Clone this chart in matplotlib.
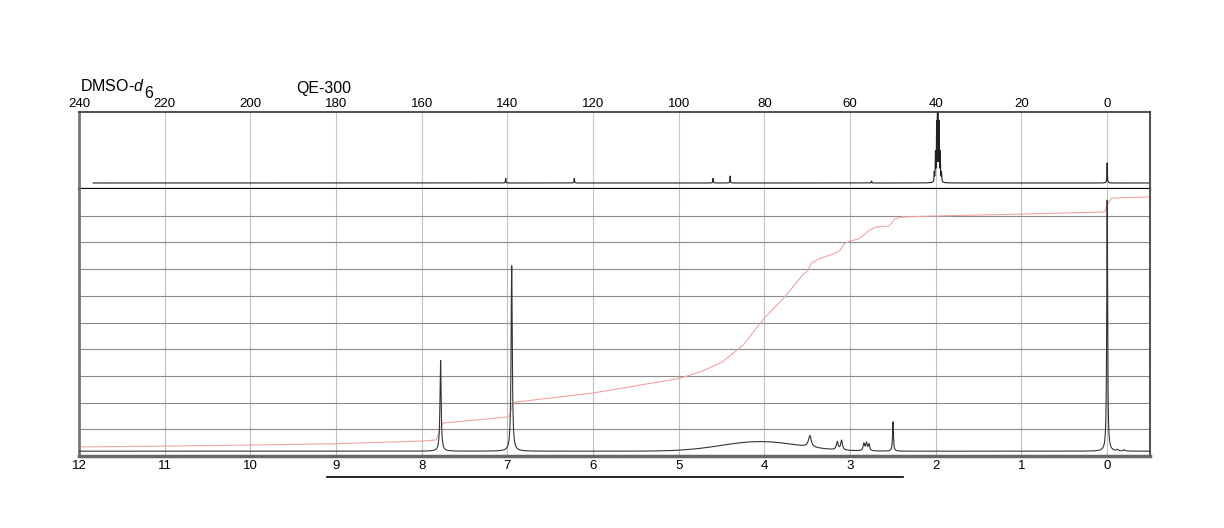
"""1H / 13C NMR spectrum sheet (DMSO-d6, QE-300) redrawn with matplotlib."""

import numpy as np
import matplotlib
matplotlib.use("Agg")
import matplotlib.pyplot as plt

plt.rcParams["font.family"] = ["Liberation Sans", "DejaVu Sans"]
plt.rcParams["mathtext.fontset"] = "custom"
plt.rcParams["mathtext.rm"] = "Liberation Sans"
plt.rcParams["mathtext.it"] = "Liberation Sans:italic"

# --- data ---
# 1H peaks: position (ppm), height above baseline (% of panel), half width (ppm)
h_pos = [7.78, 6.95, 3.47, 3.15, 3.10, 2.84, 2.81, 2.78, 2.50, 0.00, -0.12, -0.20]
h_height = [34.0, 69.5, 4.3, 3.0, 3.6, 2.6, 2.9, 2.4, 11.0, 94.0, 0.5, 0.5]
h_width = [0.008, 0.008, 0.02, 0.012, 0.012, 0.01, 0.01, 0.01, 0.006, 0.006, 0.01, 0.01]
h_baseline = 1.8
# broad exchangeable hump
hump_pos, hump_height, hump_sigma = 4.05, 3.6, 0.45

# integral trace: (ppm, % of panel)
int_ppm = [12.0, 11.0, 10.0, 9.0, 8.0, 7.83, 7.79, 7.76, 7.0, 6.97, 6.94, 6.9,
           6.0, 5.0, 4.75, 4.5, 4.25, 4.0, 3.75, 3.55, 3.5, 3.45, 3.35, 3.2,
           3.12, 3.07, 3.0, 2.9, 2.84, 2.8, 2.7, 2.55, 2.51, 2.48, 2.4, 2.0,
           1.0, 0.03, 0.0, -0.05, -0.5]
int_val = [3.4, 3.7, 4.1, 4.6, 5.6, 6.0, 9.5, 12.3, 14.6, 15.2, 19.6, 20.2,
           23.6, 29.0, 31.5, 35.0, 41.5, 51.7, 60.0, 68.0, 69.2, 72.3, 74.0, 75.6,
           77.0, 79.4, 80.5, 81.3, 82.8, 84.0, 85.8, 86.1, 87.5, 88.8, 89.5, 89.9,
           90.6, 91.4, 94.0, 96.6, 97.0]

# 13C peaks: position (ppm), height above baseline (% of panel)
c_pos = [40.36, 40.08, 39.80, 39.52, 39.24, 38.96, 38.68, 140.4, 124.4, 92.0, 88.0, 55.0, 0.0]
c_height = [12.0, 37.0, 75.0, 88.0, 75.0, 37.0, 12.0, 6.0, 6.0, 6.0, 9.0, 2.5, 26.0]
c_baseline = 7.8
c_start = 236.7

h_ticks = list(range(12, -1, -1))
c_ticks = list(range(240, -1, -20))


def lorentz(x, pos, height, width):
    y = np.zeros_like(x)
    for p, h, w in zip(pos, height, width):
        y += h * w ** 2 / ((x - p) ** 2 + w ** 2)
    return y


fig = plt.figure(figsize=(12.24, 5.28), dpi=100)
L, W = 79 / 1224, (1150 - 79) / 1224
ax_c = fig.add_axes([L, 1 - 189 / 528, W, (189 - 112) / 528])
ax_h = fig.add_axes([L, 1 - 456 / 528, W, (456 - 189) / 528])

# 13C panel
xc = np.linspace(c_start, -10, 30000)
yc = c_baseline + lorentz(xc, c_pos, c_height, [0.06] * len(c_pos))
ax_c.plot(xc, yc, color="#222222", lw=0.8)
ax_c.set_xlim(240, -10)
ax_c.set_ylim(0, 100)
ax_c.set_xticks(c_ticks)
ax_c.set_xticklabels([str(t) for t in c_ticks])
ax_c.xaxis.tick_top()
ax_c.tick_params(axis="x", length=0, pad=1.5, labelsize=9.5)
ax_c.set_yticks([])
for t in c_ticks:
    ax_c.axvline(t, color="#c8c8c8", lw=0.8, zorder=0)

# 1H panel
xh = np.linspace(12, -0.5, 30000)
yh = h_baseline + lorentz(xh, h_pos, h_height, h_width)
yh += hump_height * np.exp(-0.5 * ((xh - hump_pos) / hump_sigma) ** 2)
ax_h.plot(xh, yh, color="#333333", lw=0.8, zorder=3)
ax_h.plot(int_ppm, int_val, color="#f3a3a3", lw=0.8, zorder=2)
ax_h.set_xlim(12, -0.5)
ax_h.set_ylim(0, 100)
ax_h.set_xticks(h_ticks)
ax_h.set_xticklabels([str(t) for t in h_ticks])
ax_h.tick_params(axis="x", length=0, pad=3, labelsize=9.5)
ax_h.set_yticks([])
for t in h_ticks:
    ax_h.axvline(t, color="#c0c0c0", lw=0.8, zorder=0)
for g in range(10, 100, 10):
    ax_h.axhline(g, color="#8a8a8a", lw=0.8, zorder=0)

# frames
for ax in (ax_c, ax_h):
    ax.spines["left"].set_color("#777777")
    ax.spines["left"].set_linewidth(2)
    ax.spines["right"].set_color("#555555")
    ax.spines["right"].set_linewidth(1.5)
ax_c.spines["top"].set_color("#333333")
ax_c.spines["top"].set_linewidth(1.2)
ax_c.spines["bottom"].set_color("black")
ax_c.spines["bottom"].set_linewidth(1.6)
ax_h.spines["top"].set_visible(False)
ax_h.spines["bottom"].set_color("#666666")
ax_h.spines["bottom"].set_linewidth(2.5)

# range bar under the 1H axis
ax_h.plot([9.105, 2.382], [-7.9, -7.9], color="black", lw=1.2, clip_on=False)

# labels; the "6" of d6 sits lowered at full size, as in the original sheet
fig.text(80 / 1224, 1 - 91 / 528, r"DMSO-$\mathit{d}$", fontsize=11.5,
         ha="left", va="baseline")
fig.text(144 / 1224, 1 - 98 / 528, "6", fontsize=11.5, ha="left", va="baseline")
fig.text(296 / 1224, 1 - 93 / 528, "QE-300", fontsize=11.5, ha="left", va="baseline")

fig.savefig("out.png", dpi=100)
